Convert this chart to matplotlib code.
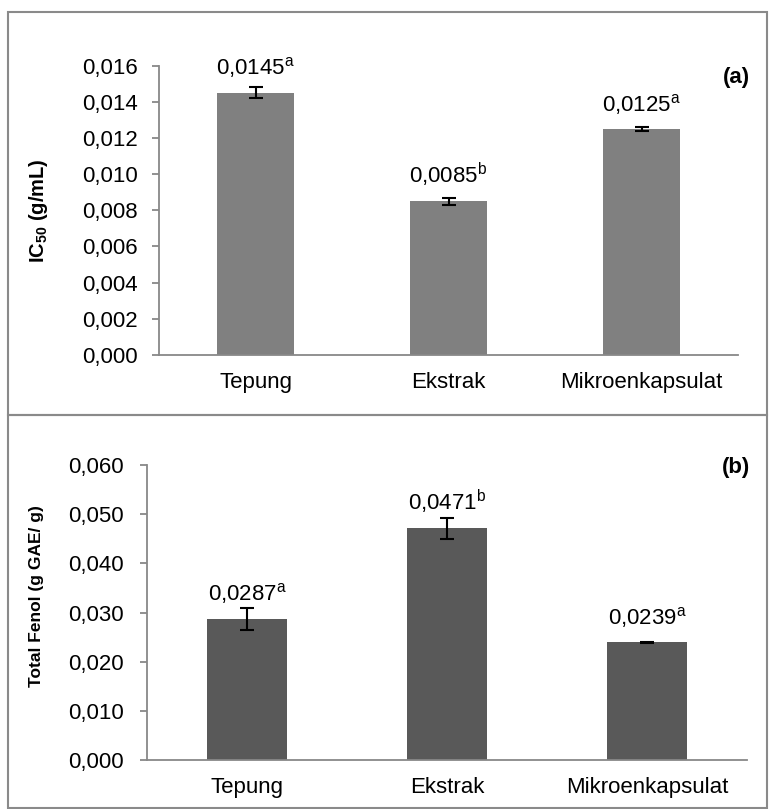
import matplotlib
matplotlib.use("Agg")
import matplotlib.pyplot as plt
from matplotlib.patches import Rectangle
from matplotlib.ticker import FuncFormatter, MultipleLocator

plt.rcParams['font.family'] = ['Liberation Sans', 'DejaVu Sans']
plt.rcParams['mathtext.fontset'] = 'custom'
plt.rcParams['mathtext.rm'] = 'Liberation Sans'
plt.rcParams['mathtext.bf'] = 'Liberation Sans:bold'

# data
categories = ['Tepung', 'Ekstrak', 'Mikroenkapsulat']
ic50 = [0.0145, 0.0085, 0.0125]
ic50_err = [0.0003, 0.00018, 0.0001]
ic50_labels = ['0,0145', '0,0085', '0,0125']
ic50_letters = ['a', 'b', 'a']

fenol = [0.0287, 0.0471, 0.0239]
fenol_err = [0.0023, 0.0021, 0.0002]
fenol_labels = ['0,0287', '0,0471', '0,0239']
fenol_letters = ['a', 'b', 'a']

W, H = 769, 809
fig = plt.figure(figsize=(W / 100, H / 100), dpi=100)

GRID = '#888888'
FS = 16


def px_axes(l, r, top, bottom):
    return fig.add_axes([l / W, (H - bottom) / H, (r - l) / W, (bottom - top) / H])


def comma_fmt(v, pos):
    return ('%.3f' % v).replace('.', ',')


def draw_panel(ax, vals, errs, labels, letters, color, ymax, step, ylabel, lsize, tickpad):
    x = range(len(categories))
    ax.bar(x, vals, width=0.4, color=color, zorder=2)
    ax.errorbar(x, vals, yerr=errs, fmt='none', ecolor='black', elinewidth=1.5,
                capsize=5, capthick=1.5, zorder=3)
    for xi, v, lab, let in zip(x, vals, labels, letters):
        ax.annotate(lab + r'$\mathregular{^{%s}}$' % let, (xi, v), xytext=(0, 18),
                    textcoords='offset pixels', ha='center', va='baseline', fontsize=FS)
    ax.set_xlim(-0.5, len(categories) - 0.5)
    ax.set_ylim(0, ymax)
    ax.yaxis.set_major_locator(MultipleLocator(step))
    ax.yaxis.set_major_formatter(FuncFormatter(comma_fmt))
    ax.set_xticks(list(x))
    ax.set_xticklabels(categories)
    for s in ['top', 'right']:
        ax.spines[s].set_visible(False)
    for s in ['left', 'bottom']:
        ax.spines[s].set_color(GRID)
        ax.spines[s].set_linewidth(1.3)
    ax.tick_params(axis='x', length=0, pad=12, labelsize=FS)
    ax.tick_params(axis='y', length=5, width=1.3, color=GRID, pad=tickpad, labelsize=FS)
    ax.set_ylabel(ylabel, fontsize=lsize, fontweight='bold')


ax1 = px_axes(159, 738, 65.6, 355)
draw_panel(ax1, ic50, ic50_err, ic50_labels, ic50_letters, '#808080', 0.016, 0.002,
           r'$\mathbf{IC_{50}}$ (g/mL)', 14.5, 10)
ax1.yaxis.set_label_coords((50 - 159) / 579, 0.5)

ax2 = px_axes(147, 747, 465, 760)
draw_panel(ax2, fenol, fenol_err, fenol_labels, fenol_letters, '#595959', 0.060, 0.010,
           'Total Fenol (g GAE/ g)', 12.5, 12)
ax2.yaxis.set_label_coords((44 - 147) / 600, 0.556)

# panel tags
fig.text(750 / W, 1 - 78 / H, '(a)', ha='right', va='center', fontsize=FS, fontweight='bold')
fig.text(750 / W, 1 - 467 / H, '(b)', ha='right', va='center', fontsize=FS, fontweight='bold')

# panel frames
for top, bottom in [(12, 415), (415, 808)]:
    fig.patches.append(Rectangle((8 / W, 1 - bottom / H), (767 - 8) / W, (bottom - top) / H,
                                 transform=fig.transFigure, fill=False,
                                 edgecolor='#8a8a8a', linewidth=1.5))

fig.savefig('out.png', dpi=100)
